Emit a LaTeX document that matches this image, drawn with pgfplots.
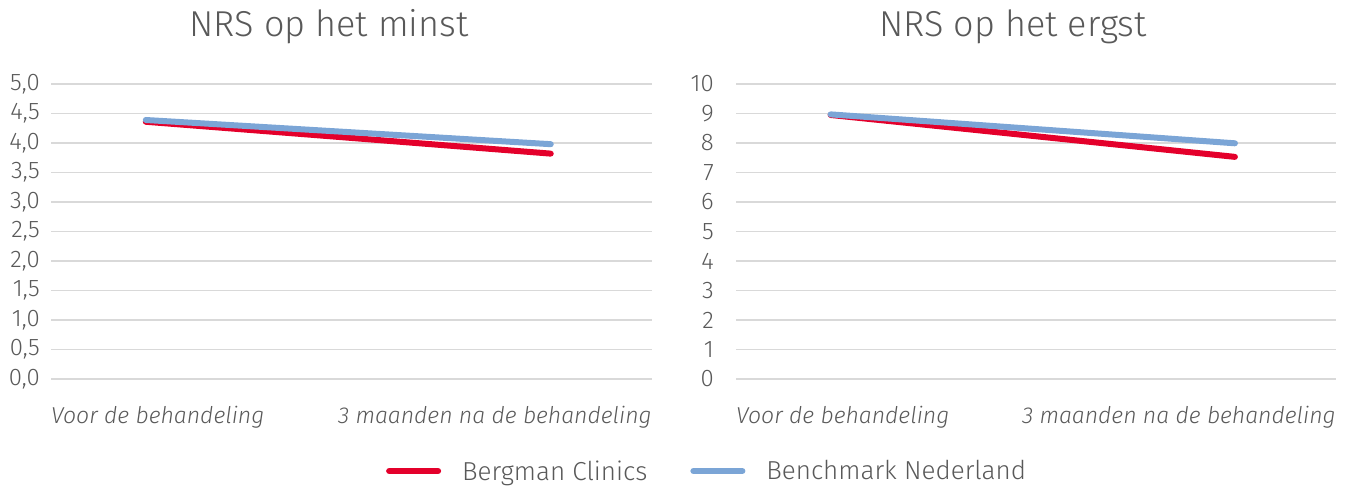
\documentclass[border=0pt]{standalone}
\usepackage{fontspec}
\setmainfont{Fira Sans}[UprightFont=* Light, ItalicFont=* Light Italic]
\usepackage{pgfplots}
\pgfplotsset{compat=1.18}
\definecolor{bcred}{HTML}{E4002B}
\definecolor{bmblue}{HTML}{7BA5D6}
\definecolor{txt}{HTML}{595959}
\definecolor{grd}{HTML}{D9D9D9}
\pgfplotsset{
  base/.style={
    scale only axis, anchor=south west, height=295pt,
    axis line style={draw=none}, major tick length=0pt,
    xmin=-0.234, xmax=1.25, xtick=\empty,
    ymin=0, ymajorgrids, grid style={color=grd, line width=1.6pt},
    clip=false,
    tick label style={font=\fontsize{24}{28}\selectfont, text=txt},
    yticklabel style={inner sep=0pt},
    /pgf/number format/assume math mode=true,
  },
  red/.style={color=bcred, line width=6pt, line cap=round, no marks},
  blue/.style={color=bmblue, line width=6pt, line cap=round, no marks},
}
\begin{document}
\begin{tikzpicture}
\useasboundingbox (0,0) rectangle (1349pt,485pt);
\begin{axis}[base, at={(51pt,106pt)}, width=601pt, ymax=5,
  ytick={0,0.5,1,1.5,2,2.5,3,3.5,4,4.5,5},
  yticklabel style={xshift=-11pt,
    /pgf/number format/.cd, fixed, fixed zerofill, precision=1, use comma},
  legend columns=2,
  legend style={at={(1.09,-0.312)}, anchor=center, draw=none, fill=none,
    font=\fontsize{26}{30}\selectfont, text=txt,
    nodes={inner sep=0pt},
    /tikz/every even column/.append style={column sep=43pt},
    /tikz/every odd column/.append style={column sep=21pt}},
  legend image code/.code={\draw[#1, line width=6pt, line cap=round] (0pt,0pt) -- (49pt,0pt);},
]
\addplot[red] coordinates {(0,4.36) (1,3.82)};
\addlegendentry{Bergman Clinics}
\addplot[blue] coordinates {(0,4.39) (1,3.98)};
\addlegendentry{Benchmark Nederland}
\node[anchor=base west, inner sep=0pt, font=\fontsize{23}{27}\selectfont\itshape, text=txt] at (rel axis cs:0,0) [yshift=-44pt] {Voor de behandeling};
\node[anchor=base east, inner sep=0pt, font=\fontsize{23}{27}\selectfont\itshape, text=txt] at (rel axis cs:1,0) [yshift=-44pt] {3 maanden na de behandeling};
\end{axis}
\begin{axis}[base, at={(736pt,106pt)}, width=600pt, ymax=10,
  ytick={0,1,2,3,4,5,6,7,8,9,10},
  yticklabel style={xshift=-22pt},
]
\addplot[red] coordinates {(0,8.95) (1,7.53)};
\addplot[blue] coordinates {(0,8.97) (1,7.99)};
\node[anchor=base west, inner sep=0pt, font=\fontsize{23}{27}\selectfont\itshape, text=txt] at (rel axis cs:0,0) [yshift=-44pt] {Voor de behandeling};
\node[anchor=base east, inner sep=0pt, font=\fontsize{23}{27}\selectfont\itshape, text=txt] at (rel axis cs:1,0) [yshift=-44pt] {3 maanden na de behandeling};
\end{axis}
\node[anchor=base, inner sep=0pt, font=\fontsize{36}{42}\selectfont, text=txt] at (329pt,448pt) {NRS op het minst};
\node[anchor=base, inner sep=0pt, font=\fontsize{36}{42}\selectfont, text=txt] at (1013pt,448pt) {NRS op het ergst};
\end{tikzpicture}
\end{document}
